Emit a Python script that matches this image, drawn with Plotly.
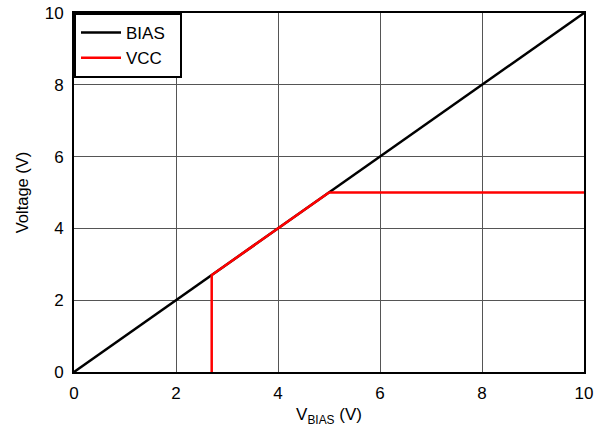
import plotly.graph_objects as go

bias_x = [0, 10]
bias_y = [0, 10]
vcc_x = [2.7, 2.7, 5, 10]
vcc_y = [0, 2.7, 5, 5]
x_ticks = [0, 2, 4, 6, 8, 10]
y_ticks = [0, 2, 4, 6, 8, 10]

fig = go.Figure()
fig.add_trace(go.Scatter(x=bias_x, y=bias_y, mode="lines", name="BIAS\u00a0\u00a0",
                         line=dict(color="black", width=2.5)))
fig.add_trace(go.Scatter(x=vcc_x, y=vcc_y, mode="lines", name="VCC",
                         line=dict(color="#ff0000", width=2.5)))

axis_common = dict(range=[0, 10], showgrid=True, gridcolor="#555555", gridwidth=1,
                   showline=True, linecolor="black", linewidth=2, mirror=True,
                   ticks="outside", ticklen=5, tickcolor="rgba(0,0,0,0)", zeroline=False,
                   automargin=False, tickfont=dict(size=17, color="black"))
fig.update_layout(
    width=608, height=432,
    margin=dict(l=74, r=24, t=13, b=60),
    paper_bgcolor="white", plot_bgcolor="white",
    font=dict(family="Liberation Sans, Arial", color="black", size=17),
    xaxis=dict(**axis_common, tickvals=x_ticks,
               title=dict(text="V<sub>BIAS</sub> (V)", font=dict(size=17), standoff=6)),
    yaxis=dict(**axis_common, tickvals=y_ticks,
               title=dict(text="Voltage (V)", font=dict(size=16.5), standoff=12)),
    legend=dict(x=0, y=1, xanchor="left", yanchor="top", bgcolor="white",
                bordercolor="black", borderwidth=2, font=dict(size=17),
                tracegroupgap=0, itemwidth=40),
    showlegend=True,
)
fig.write_html("out.html", config={"displayModeBar": False},
               post_script="document.body.style.margin='0';")
